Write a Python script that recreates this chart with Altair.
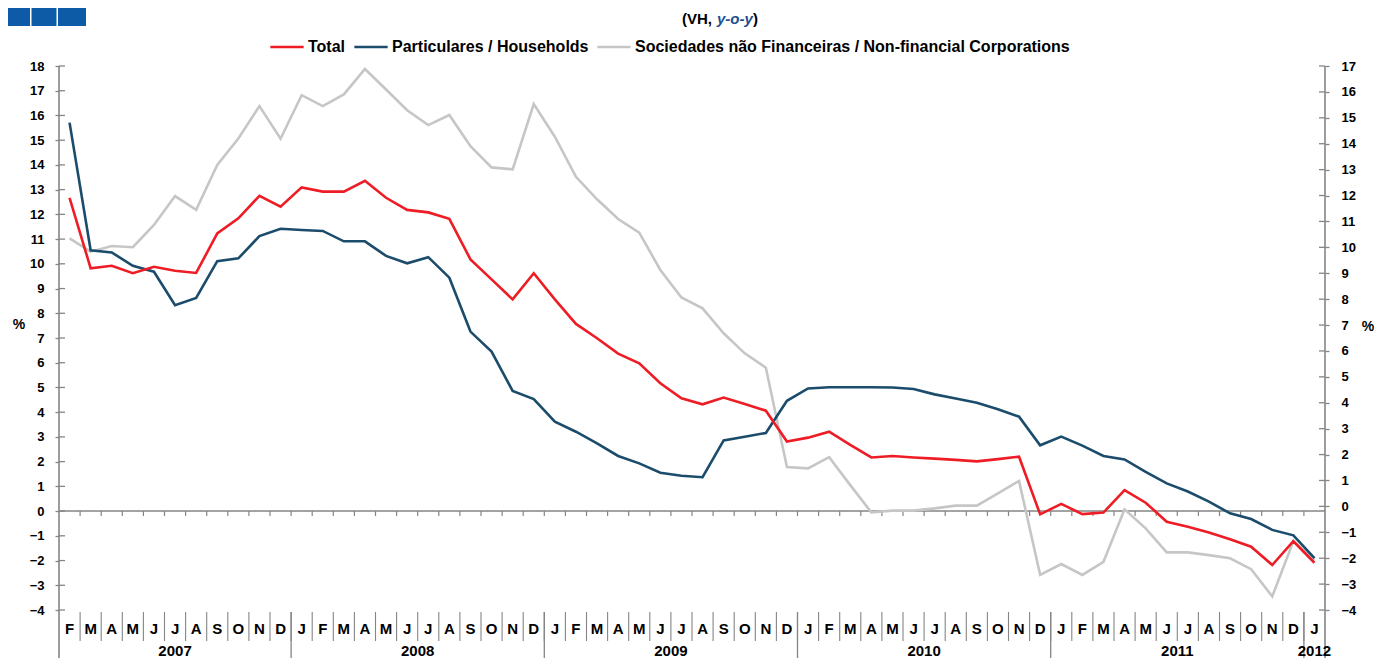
import altair as alt
import pandas as pd

# ---------------- data ----------------
months = ["F", "M", "A", "M", "J", "J", "A", "S", "O", "N", "D",
          "J", "F", "M", "A", "M", "J", "J", "A", "S", "O", "N", "D",
          "J", "F", "M", "A", "M", "J", "J", "A", "S", "O", "N", "D",
          "J", "F", "M", "A", "M", "J", "J", "A", "S", "O", "N", "D",
          "J", "F", "M", "A", "M", "J", "J", "A", "S", "O", "N", "D",
          "J"]

total = [12.67, 9.82, 9.92, 9.62, 9.88, 9.72, 9.63, 11.23, 11.84, 12.75,
         12.31, 13.09, 12.92, 12.92, 13.36, 12.67, 12.18, 12.08, 11.82, 10.18,
         9.37, 8.56, 9.62, 8.56, 7.57, 6.99, 6.37, 5.98, 5.17, 4.56,
         4.32, 4.59, 4.33, 4.06, 2.81, 2.97, 3.21, 2.68, 2.17, 2.23,
         2.17, 2.12, 2.07, 2.01, 2.10, 2.20, -0.13, 0.29, -0.12, -0.06,
         0.85, 0.34, -0.43, -0.63, -0.87, -1.14, -1.44, -2.18, -1.22, -2.09]

households = [15.71, 10.55, 10.46, 9.92, 9.68, 8.33, 8.62, 10.11, 10.22, 11.12,
              11.42, 11.37, 11.33, 10.91, 10.91, 10.32, 10.02, 10.27, 9.44, 7.26,
              6.45, 4.86, 4.53, 3.62, 3.21, 2.74, 2.23, 1.93, 1.55, 1.43,
              1.37, 2.86, 3.01, 3.16, 4.46, 4.96, 5.01, 5.01, 5.01, 5.00,
              4.94, 4.72, 4.55, 4.38, 4.12, 3.82, 2.66, 3.01, 2.65, 2.23,
              2.09, 1.59, 1.12, 0.79, 0.38, -0.09, -0.32, -0.76, -0.98, -1.90]

corporations = [11.03, 10.49, 10.72, 10.67, 11.57, 12.74, 12.18, 14.00, 15.07, 16.38,
                15.06, 16.82, 16.38, 16.85, 17.88, 17.05, 16.21, 15.61, 16.02, 14.76,
                13.90, 13.82, 16.46, 15.14, 13.52, 12.61, 11.81, 11.26, 9.75, 8.64,
                8.20, 7.19, 6.38, 5.80, 1.78, 1.73, 2.18, 1.05, -0.05, 0.02,
                0.02, 0.11, 0.22, 0.22, 0.72, 1.22, -2.58, -2.14, -2.58, -2.05,
                0.07, -0.70, -1.67, -1.67, -1.78, -1.91, -2.35, -3.45, -1.22, -1.97]

years = ["2007", "2008", "2009", "2010", "2011", "2012"]
year_centers = [5.0, 16.5, 28.5, 40.5, 52.5, 59.0]
year_bounds = [10.5, 22.5, 34.5, 46.5, 58.5]
left_ticks = list(range(-4, 19))
right_ticks = list(range(-4, 18))

series_names = ["Total", "Particulares / Households",
                "Sociedades não Financeiras / Non-financial Corporations"]
colors = ["#ee1c25", "#1b4c6b", "#c6c6c6"]

# ---------------- layout ----------------
W, H = 1266, 544
FONT = "Liberation Sans"
AXC = "#858585"

n = len(months)
idx = list(range(n))
long = pd.DataFrame({
    "i": idx * 3,
    "value": total + households + corporations,
    "series": [series_names[0]] * n + [series_names[1]] * n + [series_names[2]] * n,
})
month_df = pd.DataFrame({"i": idx, "m": months})
bounds_df = pd.DataFrame({"b": [k + 0.5 for k in range(n - 1)], "z": [0] * (n - 1)})
ybounds_df = pd.DataFrame({"b": year_bounds})
years_df = pd.DataFrame({"c": year_centers, "y": years})
lt_df = pd.DataFrame({"t": left_ticks})
rt_df = pd.DataFrame({"r": right_ticks})
one = pd.DataFrame({"a": [0]})
zero_df = pd.DataFrame({"z": [0]})

xscale = alt.Scale(domain=[-0.5, n - 0.5], nice=False, zero=False)
yscale = alt.Scale(domain=[-4, 18], nice=False, zero=False)
yscale_r = alt.Scale(domain=[-4, 17], nice=False, zero=False)

left_axis = alt.Axis(values=left_ticks, title=None, grid=False, domain=False,
                     tickSize=4, tickColor=AXC, tickWidth=1.3,
                     labelFont=FONT, labelFontSize=13, labelFontWeight="bold",
                     labelColor="black", labelPadding=11)
right_axis = alt.Axis(orient="right", values=right_ticks, title=None, grid=False,
                      domain=False, tickSize=4, tickColor=AXC, tickWidth=1.3,
                      labelFont=FONT, labelFontSize=13, labelFontWeight="bold",
                      labelColor="black", labelPadding=12)


def X(field):
    return alt.X(f"{field}:Q", scale=xscale, axis=None)


def Y(field):
    return alt.Y(f"{field}:Q", scale=yscale, axis=left_axis)


color = alt.Color(
    "series:N",
    scale=alt.Scale(domain=series_names, range=colors),
    legend=alt.Legend(title=None, orient="none", legendX=210, legendY=-37,
                      direction="horizontal", symbolType="stroke",
                      symbolSize=1110, symbolStrokeWidth=2.6,
                      labelFont=FONT, labelFontSize=16, labelFontWeight="bold",
                      labelColor="black", labelLimit=1000, columnPadding=3,
                      labelOffset=3, padding=0),
)


def line_layer(name):
    return (alt.Chart(long)
            .transform_filter(alt.datum.series == name)
            .mark_line(strokeWidth=2.6, clip=False)
            .encode(x=X("i"), y=Y("value"), color=color))


# axes decorations
zero_line = alt.Chart(zero_df).mark_rule(color=AXC, strokeWidth=1.5).encode(
    y=Y("z"), x=alt.value(0), x2=alt.value(W))
zero_ticks = alt.Chart(bounds_df).mark_rule(color=AXC, strokeWidth=1.2, y2Offset=5).encode(
    x=X("b"), y=Y("z"), y2=alt.Y2("z"))
left_inner = alt.Chart(lt_df).mark_rule(color=AXC, strokeWidth=1.3).encode(
    y=Y("t"), x=alt.value(0), x2=alt.value(6))
left_line = alt.Chart(one).mark_rule(color=AXC, strokeWidth=1.6).encode(
    x=alt.value(0), y=alt.value(0), y2=alt.value(H + 48))
right_line = alt.Chart(one).mark_rule(color=AXC, strokeWidth=1.6).encode(
    x=alt.value(W), y=alt.value(0), y2=alt.value(H + 48))

month_sep = alt.Chart(bounds_df).mark_rule(color=AXC, strokeWidth=1.1).encode(
    x=X("b"), y=alt.value(H + 2), y2=alt.value(H + 31))
year_sep = alt.Chart(ybounds_df).mark_rule(color=AXC, strokeWidth=1.3).encode(
    x=X("b"), y=alt.value(H + 2), y2=alt.value(H + 48))
month_txt = alt.Chart(month_df).mark_text(font=FONT, fontSize=15, fontWeight="bold",
                                          color="black", baseline="middle").encode(
    x=X("i"), y=alt.value(H + 19), text="m:N")
year_txt = alt.Chart(years_df).mark_text(font=FONT, fontSize=15, fontWeight="bold",
                                         color="black", baseline="middle").encode(
    x=X("c"), y=alt.value(H + 41), text="y:N")

# header
t1 = alt.Chart(one).mark_text(text="(VH,", align="right", baseline="middle", font=FONT,
                              fontSize=15, fontWeight="bold", color="black").encode(
    x=alt.value(653), y=alt.value(-47))
t2 = alt.Chart(one).mark_text(text="y-o-y", align="left", baseline="middle", font=FONT,
                              fontSize=15, fontWeight="bold", fontStyle="italic",
                              color="#1d4f91").encode(x=alt.value(658), y=alt.value(-47))
t3 = alt.Chart(one).mark_text(text=")", align="left", baseline="middle", font=FONT,
                              fontSize=15, fontWeight="bold", color="black").encode(
    x=alt.value(694), y=alt.value(-47))
pct_l = alt.Chart(one).mark_text(text="%", align="center", baseline="middle", font=FONT,
                                 fontSize=14, fontWeight="bold", color="black").encode(
    x=alt.value(-40), y=alt.value(259))
pct_r = alt.Chart(one).mark_text(text="%", align="center", baseline="middle", font=FONT,
                                 fontSize=14, fontWeight="bold", color="black").encode(
    x=alt.value(W + 43), y=alt.value(261))

sq_x = [(-51, -29), (-27.5, -2.5), (-1, 27)]
squares = [alt.Chart(one).mark_rect(color="#0d5aa6").encode(
    x=alt.value(a), x2=alt.value(b), y=alt.value(-58), y2=alt.value(-40)) for a, b in sq_x]

left_group = alt.layer(
    *squares, t1, t2, t3, pct_l, pct_r,
    left_inner, left_line, right_line, zero_line, zero_ticks,
    month_sep, year_sep, month_txt, year_txt,
    line_layer(series_names[2]), line_layer(series_names[1]), line_layer(series_names[0]),
)

right_group = alt.Chart(rt_df).mark_rule(color=AXC, strokeWidth=1.3).encode(
    y=alt.Y("r:Q", scale=yscale_r, axis=right_axis),
    x=alt.value(W - 6), x2=alt.value(W))

chart = (alt.layer(left_group, right_group)
         .resolve_scale(y="independent")
         .properties(width=W, height=H,
                     autosize=alt.AutoSizeParams(type="none"),
                     padding={"left": 51, "top": 58, "right": 51, "bottom": 48},
                     background="white")
         .configure_view(stroke=None))

chart.save("out.html", embed_options={"renderer": "svg", "actions": False})
